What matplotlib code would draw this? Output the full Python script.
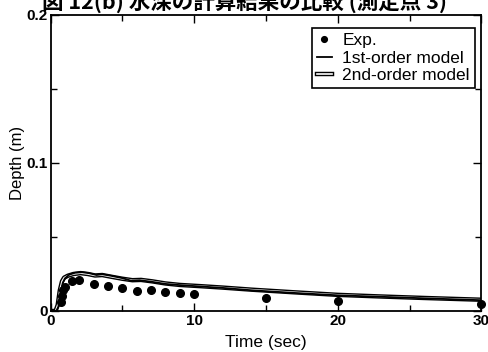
import matplotlib
matplotlib.use("Agg")
import matplotlib.pyplot as plt
import matplotlib.patheffects as pe
from matplotlib.ticker import MultipleLocator

plt.rcParams['font.family'] = ['Liberation Sans', 'DejaVu Sans']

# measured data (Exp.)
exp_t = [0.7, 0.8, 0.9, 1.0, 1.5, 2.0, 3.0, 4.0, 5.0, 6.0, 7.0, 8.0, 9.0, 10.0, 15.0, 20.0, 30.0]
exp_d = [0.006, 0.010, 0.014, 0.016, 0.0204, 0.021, 0.018, 0.017, 0.0155, 0.0136, 0.0143,
         0.0127, 0.012, 0.0116, 0.0086, 0.0068, 0.0048]

# 1st-order model
m1_t = [0.0, 0.4, 0.55, 0.7, 0.85, 1.0, 1.3, 1.7, 2.2, 2.7, 3.2, 3.6, 4.2, 5.0, 5.6, 6.2,
        7.0, 8.0, 9.0, 10.4, 12.0, 14.0, 17.0, 20.0, 23.0, 26.0, 30.0]
m1_d = [0.0, 0.0, 0.003, 0.012, 0.019, 0.022, 0.0245, 0.0258, 0.0262, 0.0255, 0.0243, 0.0248,
        0.0238, 0.0222, 0.0205, 0.0208, 0.0198, 0.0183, 0.0175, 0.0166, 0.0156, 0.014,
        0.0122, 0.0106, 0.0096, 0.0086, 0.0073]

# 2nd-order model
m2_t = [0.0, 0.35, 0.5, 0.65, 0.8, 0.95, 1.2, 1.6, 2.1, 2.6, 3.1, 3.6, 4.2, 5.0, 5.7, 6.3,
        7.1, 8.0, 9.0, 10.4, 12.0, 14.0, 17.0, 20.0, 23.0, 26.0, 30.0]
m2_d = [0.0, 0.0, 0.004, 0.014, 0.020, 0.0225, 0.0238, 0.0250, 0.0256, 0.0250, 0.0240, 0.0243,
        0.0232, 0.0218, 0.0208, 0.0210, 0.0200, 0.0186, 0.0176, 0.0168, 0.0158, 0.0144,
        0.0126, 0.0109, 0.0098, 0.0088, 0.0076]

fig = plt.figure(figsize=(4.88, 3.52), dpi=100)
ax = fig.add_axes([0.1035, 0.1165, 0.883, 0.841])

ax.plot(m2_t, m2_d, color='white', lw=1.2, label='2nd-order model',
        path_effects=[pe.Stroke(linewidth=3.2, foreground='black'), pe.Normal()])
ax.plot(m1_t, m1_d, color='black', lw=1.3, label='1st-order model')
ax.plot(exp_t, exp_d, 'o', color='black', ms=5.5, label='Exp.', clip_on=False, zorder=5)

ax.set_xlim(0, 30)
ax.set_ylim(0, 0.2)
ax.xaxis.set_minor_locator(MultipleLocator(5))
ax.yaxis.set_minor_locator(MultipleLocator(0.05))
ax.set_xticks([0, 10, 20, 30])
ax.set_xticklabels(['0', '10', '20', '30'])
ax.set_yticks([0, 0.1, 0.2])
ax.set_yticklabels(['0', '0.1', '0.2'])
ax.tick_params(which='both', direction='in', top=True, right=True, width=1)
ax.tick_params(which='major', length=6, labelsize=11, pad=2)
ax.tick_params(which='minor', length=4)
for lab in ax.get_xticklabels() + ax.get_yticklabels():
    lab.set_fontweight('bold')
for s in ax.spines.values():
    s.set_linewidth(1.3)

ax.set_xlabel('Time (sec)', fontsize=12.5, labelpad=5)
ax.set_ylabel('Depth (m)', fontsize=12, labelpad=1)

h, l = ax.get_legend_handles_labels()
leg = ax.legend(h[::-1], l[::-1], loc='upper right', fontsize=12.5, frameon=True,
                fancybox=False, edgecolor='black', framealpha=1, handlelength=0.85,
                handletextpad=0.6, borderpad=0.3, labelspacing=0.12, markerscale=0.75,
                borderaxespad=0, bbox_to_anchor=(0.985, 0.956))
leg.get_frame().set_linewidth(1.2)

fig.text(0.5, 0.975, '図 12(b) 水深の計算結果の比較 (測定点 3)', ha='center', va='baseline',
         fontsize=15.5, fontweight='bold',
         family=['Noto Sans CJK JP', 'DejaVu Sans'])

fig.savefig('out.png', dpi=100)
